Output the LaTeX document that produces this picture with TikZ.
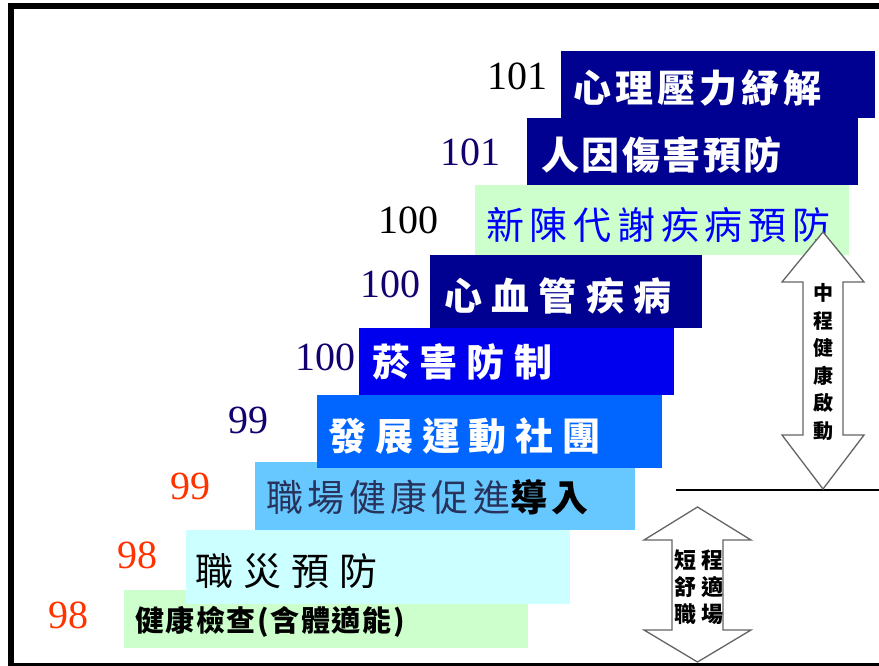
\documentclass[tikz,border=0pt]{standalone}
\usepackage{fontspec}
\setmainfont{Liberation Serif}
\newfontfamily\cjkn{Noto Sans CJK TC}
\definecolor{navyb}{RGB}{0,0,145}
\definecolor{blueb}{RGB}{0,0,238}
\definecolor{midb}{RGB}{0,102,255}
\definecolor{lightb}{RGB}{102,200,255}
\definecolor{cyanb}{RGB}{204,255,255}
\definecolor{greenb}{RGB}{204,255,204}
\definecolor{numnavy}{RGB}{20,0,110}
\definecolor{numred}{RGB}{255,51,0}
\definecolor{slate}{RGB}{40,50,90}
\definecolor{arrowgray}{RGB}{100,100,100}
\newcommand{\lsfont}[2]{\cjkn\fontsize{#1}{#1}\selectfont\addfontfeature{LetterSpace=#2}}
\begin{document}
\begin{tikzpicture}[x=1pt,y=-1pt,
  box/.style 2 args={minimum width=#1pt, minimum height=#2pt, inner sep=0pt, outer sep=0pt, draw=none},
  lab/.style={anchor=west, inner sep=0pt},
  num/.style={inner sep=0pt, font=\fontsize{40}{40}\selectfont},
  blockarrow/.style={draw=arrowgray, fill=white, line width=1.3pt, line join=miter},
  arrtext/.style={inner sep=0pt, align=center, font=\cjkn\bfseries\fontsize{20}{27.5}\selectfont}
]
\useasboundingbox (0,0) rectangle (879,665);
\begin{scope}
\clip (0,0) rectangle (879,665);
% frame
\draw[line width=6pt] (11,667) -- (11,6) -- (890,6);
\draw[line width=3pt] (11,664) -- (890,664);

% boxes, bottom first
\node[box={404}{58}, fill=greenb] (b9) at (326,619) {};
\node[box={384}{74}, fill=cyanb] (b8) at (378,567) {};
\node[box={380}{68}, fill=lightb] (b7) at (445,496) {};
\node[box={345}{73}, fill=midb] (b6) at (489.5,431.5) {};
\node[box={315}{67}, fill=blueb] (b5) at (516.5,361.5) {};
\node[box={272}{73}, fill=navyb] (b4) at (566,291.5) {};
\node[box={374}{70}, fill=greenb] (b3) at (662,220) {};
\node[box={331}{67}, fill=navyb] (b2) at (692.5,151.5) {};
\node[box={314}{67}, fill=navyb] (b1) at (718,84.5) {};

% labels
\node[lab, text=white, font=\lsfont{38}{10.5}\bfseries] (t1) at (573,88) {心理壓力紓解};
\node[lab, text=white, font=\lsfont{38}{6.5}\bfseries] (t2) at (541,155) {人因傷害預防};
\node[lab, text=blue, font=\lsfont{38}{15}] (t3) at (486,225) {新陳代謝疾病預防};
\node[lab, text=white, font=\lsfont{38}{24.5}\bfseries] (t4) at (444,296) {心血管疾病};
\node[lab, text=white, font=\lsfont{38}{24.5}\bfseries] (t5) at (372,362) {菸害防制};
\node[lab, text=white, font=\lsfont{38}{23.5}\bfseries] (t6) at (328,436) {發展運動社團};
\node[lab, font=\lsfont{37}{12}] (t7) at (266,497) {\textcolor{slate}{職場健康促進}\textcolor{black}{\bfseries 導入}};
\node[lab, text=black, font=\lsfont{38}{26.5}] (t8) at (195,571) {職災預防};
\node[lab, text=black, font=\lsfont{29}{5.5}\bfseries] (t9) at (135,622) {健康檢查(含體適能)};

% numbers
\node[num, text=black] (n1) at (517,76) {101};
\node[num, text=numnavy] (n2) at (470,152) {101};
\node[num, text=black] (n3) at (408,220) {100};
\node[num, text=numnavy] (n4) at (390,284) {100};
\node[num, text=numnavy] (n5) at (325,357) {100};
\node[num, text=numnavy] (n6) at (248,420) {99};
\node[num, text=numred] (n7) at (190,486) {99};
\node[num, text=numred] (n8) at (137,555) {98};
\node[num, text=numred] (n9) at (68,615) {98};

% divider line
\coordinate (l1) at (676,490);
\coordinate (l2) at (885,490);
\draw[line width=1.5pt] (l1) -- (l2);

% upper double arrow
\draw[blockarrow] (823,232) -- (864,282) -- (843,282) -- (843,435) -- (864,435) -- (823,489)
  -- (782,435) -- (803,435) -- (803,282) -- (782,282) -- cycle;
\node[arrtext] (a1) at (823,362) {中\\程\\健\\康\\啟\\動};

% lower double arrow
\draw[blockarrow] (697.5,507) -- (751,540) -- (723,540) -- (723,630) -- (751,630) -- (697.5,662)
  -- (644,630) -- (672,630) -- (672,540) -- (644,540) -- cycle;
\node[inner sep=0pt, align=center, font=\lsfont{22}{20}\bfseries, text=black] (a2) at (699,587) {短程\\[5pt]舒適\\[5pt]職場};
\end{scope}
\end{tikzpicture}
\end{document}
